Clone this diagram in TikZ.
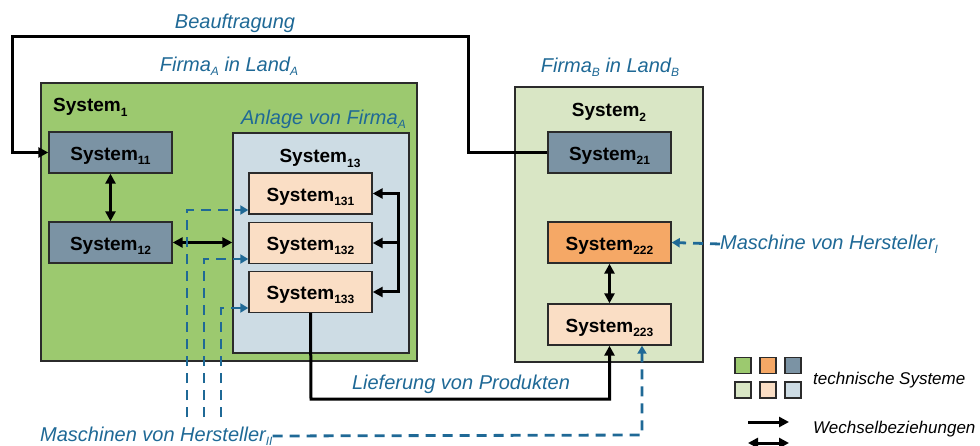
\documentclass[tikz,border=0pt]{standalone}
\usepackage{fontspec}
\setmainfont{Liberation Sans}
\usetikzlibrary{arrows.meta}
\definecolor{cgreen}{HTML}{9CC96F}
\definecolor{clgreen}{HTML}{D9E6C5}
\definecolor{cslate}{HTML}{7B93A4}
\definecolor{clblue}{HTML}{CDDCE4}
\definecolor{corange}{HTML}{F5A866}
\definecolor{cpeach}{HTML}{FADEC5}
\definecolor{cblue}{HTML}{1F6996}
\definecolor{cedge}{HTML}{2B2B2B}
\newcommand{\subx}[1]{\raisebox{-0.35ex}{\fontsize{12}{12}\selectfont #1}}
\newcommand{\subb}[1]{\raisebox{-0.4ex}{\fontsize{12}{12}\selectfont #1}}
\tikzset{
  sysbox/.style={draw=cedge, line width=1.4pt, minimum width=123pt, minimum height=41pt, inner sep=0pt, text height=16pt, text depth=0pt, font=\fontsize{19}{21}\selectfont\bfseries},
  bigbox/.style={draw=cedge, line width=1.4pt, inner sep=0pt},
  syslabel/.style={font=\fontsize{19}{21}\selectfont\bfseries, inner sep=0pt},
  bluelabel/.style={font=\fontsize{20}{23}\selectfont\itshape, text=cblue, inner sep=0pt},
  legtext/.style={font=\fontsize{17}{19}\selectfont\itshape, inner sep=0pt},
  conn/.style={line width=3pt, line join=miter},
  tip/.style={-{Triangle[length=10pt,width=10pt]}},
  dtip/.style={{Triangle[length=10pt,width=10pt]}-{Triangle[length=10pt,width=10pt]}},
  bdash/.style={draw=cblue, line width=2.8pt, dash pattern=on 10pt off 7pt},
  btip/.style={-{Triangle[length=8pt,width=9pt]}},
  legsq/.style={draw=cedge, line width=1.3pt, minimum size=16pt, inner sep=0pt}
}
\begin{document}
\begin{tikzpicture}[x=1pt,y=-1pt]
\useasboundingbox (0,0) rectangle (980,446);
% big boxes
\node[bigbox, fill=cgreen, minimum width=376pt, minimum height=278pt] (s1) at (229,222) {};
\node[bigbox, fill=clblue, minimum width=176pt, minimum height=220pt] (s13) at (321,243) {};
\node[bigbox, fill=clgreen, minimum width=188pt, minimum height=275pt] (s2) at (609,224.5) {};
% labels
\node[syslabel, anchor=base west] (s1l) at (53,112) {System\subb{1}};
\node[syslabel, anchor=base] (s13l) at (320,163) {System\subb{13}};
\node[syslabel, anchor=base] (s2l) at (609,117) {System\subb{2}};
\node[bluelabel, anchor=base] (beauf) at (235,29) {Beauftragung};
\node[bluelabel, anchor=base] (firmaA) at (229,72) {Firma\subx{A} in Land\subx{A}};
\node[bluelabel, anchor=base] (firmaB) at (610,73) {Firma\subx{B} in Land\subx{B}};
\node[bluelabel, anchor=base east] (anlage) at (406,125) {Anlage von Firma\subx{A}};
\node[bluelabel, anchor=base] (liefer) at (461,389) {Lieferung von Produkten};
\node[bluelabel, anchor=west] (maschI) at (720,244) {Maschine von Hersteller\subx{I}};
\node[bluelabel, anchor=west] (maschII) at (40,436) {Maschinen von Hersteller\subx{II}};
% system boxes
\node[sysbox, fill=cslate] (s11) at (110.5,152.5) {System\subx{11}};
\node[sysbox, fill=cslate] (s12) at (110.5,242.5) {System\subx{12}};
\node[sysbox, fill=cpeach] (s131) at (310.5,193.5) {System\subx{131}};
\node[sysbox, fill=cpeach] (s132) at (310.5,243) {System\subx{132}};
\node[sysbox, fill=cpeach] (s133) at (310.5,292) {System\subx{133}};
\node[sysbox, fill=cslate] (s21) at (609.5,152.5) {System\subx{21}};
\node[sysbox, fill=corange] (s222) at (609.5,242.5) {System\subx{222}};
\node[sysbox, fill=cpeach] (s223) at (609.5,324.5) {System\subx{223}};
% black connectors
\draw[conn, tip] (s21.west) -- (468,152.5) -- (468,37) -- (12,37) -- (12,152.5) -- (s11.west);
\draw[conn, dtip] (s11.south) -- (s12.north);
\draw[conn, dtip] (s12.east) -- (s13.west |- s12.east);
\coordinate (br) at (398,243);
\draw[conn, tip] (br) -- (398,193.5) -- (s131.east);
\draw[conn, tip] (br) -- (s132.east);
\draw[conn, tip] (br) -- (398,292) -- (s133.east);
\draw[conn, dtip] (s222.south) -- (s223.north);
\draw[conn, tip] (s133.south) -- (311,399) -- (609.5,399) -- (s223.south);
% blue dashed connectors
\coordinate (d1) at (187,417);
\coordinate (d2) at (204,417);
\coordinate (d3) at (221,417);
\coordinate (bc) at (642,435);
\draw[bdash, btip] (d1) -- (187,210) -- ([yshift=-16.5pt]s131.west);
\draw[bdash, btip] (d2) -- (204,259) -- ([yshift=-16pt]s132.west);
\draw[bdash, btip] (d3) -- (221,308) -- ([yshift=-16pt]s133.west);
\draw[bdash, btip] (maschI.west) -- (s222.east);
\draw[bdash, btip] (maschII.east) -- (bc) -- (bc |- s223.south);
% legend
\node[legsq, fill=cgreen] (lg1) at (743,365.5) {};
\node[legsq, fill=corange] (lg2) at (768,365.5) {};
\node[legsq, fill=cslate] (lg3) at (793,365.5) {};
\node[legsq, fill=clgreen] (lg4) at (743,390) {};
\node[legsq, fill=cpeach] (lg5) at (768,390) {};
\node[legsq, fill=clblue] (lg6) at (793,390) {};
\node[legtext, anchor=west] (legt1) at (813,380) {technische Systeme};
\node[legtext, anchor=west] (legt2) at (813,429) {Wechselbeziehungen};
\coordinate (la1) at (748,422);
\coordinate (la2) at (789,422);
\coordinate (la3) at (748,443);
\coordinate (la4) at (789,443);
\draw[conn, tip] (la1) -- (la2);
\draw[conn, dtip] (la3) -- (la4);
\end{tikzpicture}
\end{document}
